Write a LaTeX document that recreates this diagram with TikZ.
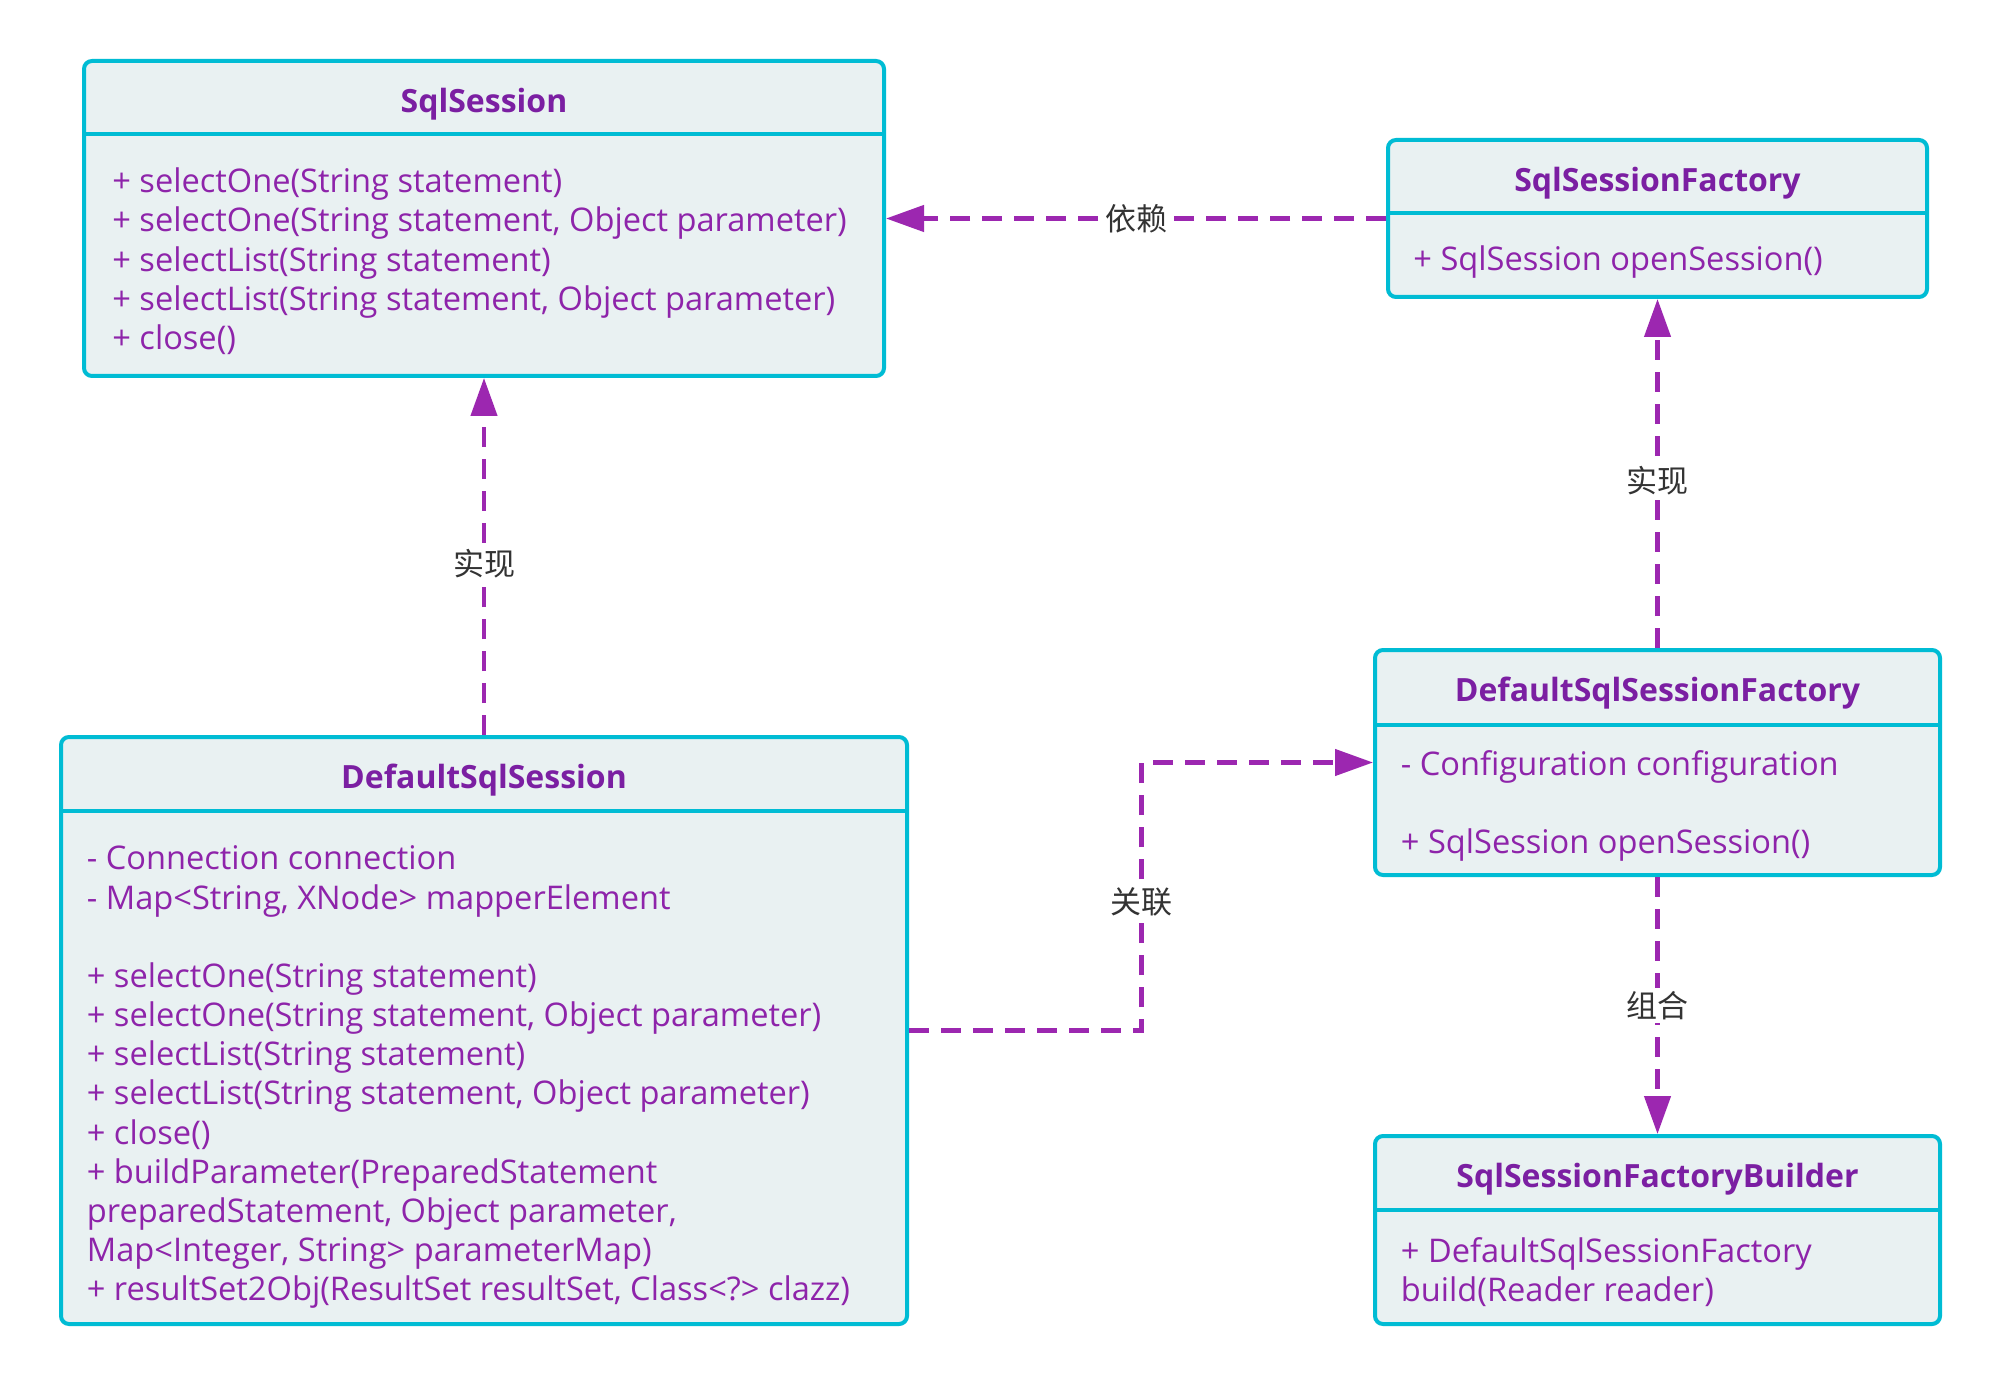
\documentclass[tikz,border=0pt]{standalone}
\usepackage{fontspec}
\setmainfont{Open Sans}
\newfontfamily\cjk{Noto Sans CJK SC}
\usetikzlibrary{arrows.meta,calc}
\definecolor{bordercyan}{HTML}{00BCD4}
\definecolor{boxfill}{HTML}{E9F1F2}
\definecolor{titlepurple}{HTML}{7B1FA2}
\definecolor{textpurple}{HTML}{8E24AA}
\definecolor{linepurple}{HTML}{9C27B0}
\definecolor{labelgray}{HTML}{333333}
\tikzset{
 cls/.style={draw=bordercyan, line width=2pt, fill=boxfill, rounded corners=4pt, inner sep=0pt},
 divider/.style={draw=bordercyan, line width=2pt},
 title/.style={font=\fontsize{16}{19}\selectfont\bfseries, text=titlepurple, inner sep=0pt},
 member/.style={font=\fontsize{16.3}{19}\selectfont, text=textpurple, inner sep=0pt, anchor=base west},
 conn/.style={draw=linepurple, line width=2.2pt, dash pattern=on 10pt off 6pt, -{Triangle[length=19pt,width=13pt]}},
 lbl/.style={font=\cjk\fontsize{15.5}{18}\selectfont, text=labelgray, fill=white, inner sep=1.5pt},
}
\begin{document}
\begin{tikzpicture}[x=0.5pt,y=-0.5pt]
\useasboundingbox (0,0) rectangle (2000,1384);
\fill[white] (0,0) rectangle (2000,1384);

% SqlSession
\node[cls, minimum width=400pt, minimum height=157.5pt] (ss) at (484,218.5) {};
\draw[divider] (ss.west |- 0,134) -- (ss.east |- 0,134);
\node[title] (sst) at (484,104) {SqlSession};
\foreach \y/\t [count=\i] in {181/{+ selectOne(String statement)},220.5/{+ selectOne(String statement, Object parameter)},259.8/{+ selectList(String statement)},299/{+ selectList(String statement, Object parameter)},338.2/{+ close()}}
  \node[member] (ssm\i) at (112,\y+11.5) {\t};

% SqlSessionFactory
\node[cls, minimum width=269.5pt, minimum height=78.5pt] (ssf) at (1657.5,218.5) {};
\draw[divider] (ssf.west |- 0,213) -- (ssf.east |- 0,213);
\node[title] (ssft) at (1657.5,183) {SqlSessionFactory};
\node[member] (ssfm1) at (1413,259+11.5) {+ SqlSession openSession()};

% DefaultSqlSession
\node[cls, minimum width=423pt, minimum height=293.5pt] (dss) at (484,1030.5) {};
\draw[divider] (dss.west |- 0,811) -- (dss.east |- 0,811);
\node[title] (dsst) at (484,780) {DefaultSqlSession};
\foreach \y/\t [count=\i] in {858.4/{- Connection connection},897.8/{- Map<String, XNode> mapperElement},975.8/{+ selectOne(String statement)},1015/{+ selectOne(String statement, Object parameter)},1054.2/{+ selectList(String statement)},1093.4/{+ selectList(String statement, Object parameter)},1132.6/{+ close()},1171.8/{+ buildParameter(PreparedStatement},1211/{preparedStatement, Object parameter,},1250.2/{Map<Integer, String> parameterMap)},1289.4/{+ resultSet2Obj(ResultSet resultSet, Class<?> clazz)}}
  \node[member] (dssm\i) at (86.5,\y+11.5) {\t};

% DefaultSqlSessionFactory
\node[cls, minimum width=282.5pt, minimum height=112.5pt] (dssf) at (1657.5,762.5) {};
\draw[divider] (dssf.west |- 0,724.5) -- (dssf.east |- 0,724.5);
\node[title] (dssft) at (1657.5,693.5) {DefaultSqlSessionFactory};
\node[member] (dssfm1) at (1400.5,764+11.5) {- Configuration configuration};
\node[member] (dssfm2) at (1400.5,841.8+11.5) {+ SqlSession openSession()};

% SqlSessionFactoryBuilder
\node[cls, minimum width=282.5pt, minimum height=94pt] (ssfb) at (1657.5,1230) {};
\draw[divider] (ssfb.west |- 0,1210.4) -- (ssfb.east |- 0,1210.4);
\node[title] (ssfbt) at (1657.5,1179.5) {SqlSessionFactoryBuilder};
\node[member] (ssfbm1) at (1400.5,1251.3+11.5) {+ DefaultSqlSessionFactory};
\node[member] (ssfbm2) at (1400.5,1289.5+11.5) {build(Reader reader)};

% connectors
\draw[conn] (ssf.west) -- node[lbl] {依赖} (ss.east);
\draw[conn] (dss.north) -- node[lbl, pos=0.48] {实现} (ss.south);
\draw[conn] (dssf.north) -- node[lbl, pos=0.48] {实现} (ssf.south);
\coordinate (mid) at (1141.5,0);
\draw[conn] (dss.east) -- (dss.east -| mid) -- node[lbl, pos=0.48] {关联} (mid |- dssf.west) -- (dssf.west);
\draw[conn] (dssf.south) -- node[lbl] {组合} (ssfb.north);
\end{tikzpicture}
\end{document}
